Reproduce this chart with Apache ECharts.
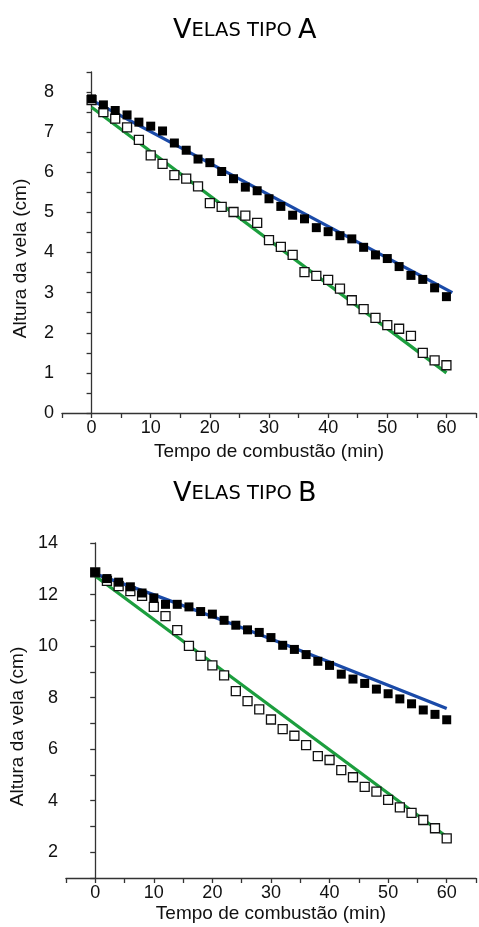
<!DOCTYPE html>
<html>
<head>
<meta charset="utf-8">
<script src="https://cdn.jsdelivr.net/npm/echarts@6/dist/echarts.min.js"></script>
<style>
  html, body { margin: 0; padding: 0; background: #fff; }
  #chart { width: 479px; height: 927px; }
</style>
</head>
<body>
<div id="chart"></div>
<script>
// tempo de combustão (min)
var tempo = [0, 2, 4, 6, 8, 10, 12, 14, 16, 18, 20, 22, 24, 26, 28, 30,
             32, 34, 36, 38, 40, 42, 44, 46, 48, 50, 52, 54, 56, 58, 60];

// velas tipo A
var alturaA_cheio = [7.83, 7.68, 7.54, 7.43, 7.25, 7.15, 7.03, 6.73, 6.55, 6.33, 6.24, 6.02, 5.84, 5.63, 5.54, 5.34,
                     5.15, 4.93, 4.84, 4.62, 4.52, 4.42, 4.34, 4.13, 3.94, 3.85, 3.65, 3.43, 3.33, 3.12, 2.9];
var alturaA_vazio = [7.8, 7.5, 7.34, 7.12, 6.81, 6.42, 6.21, 5.93, 5.84, 5.65, 5.23, 5.14, 5.01, 4.92, 4.74, 4.31,
                     4.14, 3.94, 3.51, 3.42, 3.32, 3.1, 2.81, 2.59, 2.37, 2.19, 2.1, 1.92, 1.5, 1.31, 1.19];
var ajusteA_azul = [[0, 7.8], [61, 3.0]];
var ajusteA_verde = [[0, 7.62], [60, 1.0]];

// velas tipo B
var alturaB_cheio = [12.86, 12.62, 12.48, 12.3, 12.06, 11.87, 11.62, 11.62, 11.52, 11.34, 11.24, 11.0, 10.81, 10.63, 10.53, 10.33,
                     10.03, 9.87, 9.67, 9.41, 9.25, 8.91, 8.72, 8.55, 8.33, 8.15, 7.95, 7.76, 7.52, 7.35, 7.14];
var alturaB_vazio = [12.86, 12.53, 12.33, 12.13, 11.95, 11.52, 11.16, 10.62, 10.01, 9.62, 9.25, 8.86, 8.25, 7.86, 7.54, 7.15,
                     6.78, 6.52, 6.16, 5.73, 5.58, 5.19, 4.91, 4.54, 4.35, 4.03, 3.74, 3.53, 3.25, 2.93, 2.54];
var ajusteB_azul = [[0, 12.8], [20, 11.15], [40, 9.38], [60, 7.58]];
var ajusteB_verde = [[0, 12.72], [60, 2.6]];

var titulos = ['Velas tipo A', 'Velas tipo B'];
var nomeX = 'Tempo de combustão (min)';
var nomeY = 'Altura da vela (cm)';

function pares(y) {
    return tempo.map(function (t, i) { return [t, y[i]]; });
}

var fonte = '"Liberation Sans", Arial, sans-serif';
var corEixo = '#333';

function eixoX(idx, gap) {
    return {
        type: 'value', gridIndex: idx, min: -5, max: 65, interval: 5,
        axisLine: { onZero: false, lineStyle: { color: corEixo, width: 1.3 } },
        axisTick: { length: 5, lineStyle: { color: corEixo, width: 1.3 } },
        axisLabel: {
            margin: 6, fontSize: 18, color: '#111', fontFamily: fonte,
            formatter: function (v) { return (v >= 0 && v % 10 === 0) ? v : ''; }
        },
        splitLine: { show: false },
        name: nomeX, nameLocation: 'middle', nameGap: gap,
        nameTextStyle: { fontSize: 19, color: '#111', fontFamily: fonte }
    };
}

function eixoY(idx, min, max, passo, gap, mostra) {
    return {
        type: 'value', gridIndex: idx, min: min, max: max, interval: passo,
        axisLine: { show: true, lineStyle: { color: corEixo, width: 1.3 } },
        axisTick: { show: true, length: 5, lineStyle: { color: corEixo, width: 1.3 } },
        axisLabel: { margin: 8, fontSize: 18, color: '#111', fontFamily: fonte, formatter: mostra },
        splitLine: { show: false },
        name: nomeY, nameLocation: 'middle', nameGap: gap, nameRotate: 90,
        nameTextStyle: { fontSize: 19, color: '#111', fontFamily: fonte, padding: [0, 32, 0, 0] }
    };
}

function titulo(txt, top) {
    // versalete: primeira letra e a última grandes
    var partes = txt.toUpperCase().split(' ');
    return {
        left: 168, top: top,
        text: '{g|V}{p|ELAS TIPO }{g|' + partes[2] + '}',
        textStyle: {
            fontWeight: 'normal',
            rich: {
                g: { fontSize: 27, fontWeight: 'normal', color: '#000', fontFamily: '"DejaVu Sans", sans-serif' },
                p: { fontSize: 19.5, fontWeight: 'normal', color: '#000', fontFamily: '"DejaVu Sans", sans-serif' }
            }
        }
    };
}

function linha(nome, dados, cor, x, y, suave) {
    return {
        name: nome, type: 'line', xAxisIndex: x, yAxisIndex: y, data: dados,
        symbol: 'none', smooth: !!suave, z: 1,
        lineStyle: { color: cor, width: 3.3 }
    };
}

function pontos(nome, dados, cheio, x, y) {
    return {
        name: nome, type: 'scatter', xAxisIndex: x, yAxisIndex: y, data: dados,
        symbol: 'rect', symbolSize: 9, z: cheio ? 4 : 3,
        itemStyle: cheio
            ? { color: '#000', opacity: 1 }
            : { color: '#fff', borderColor: '#111', borderWidth: 1.3, opacity: 1 }
    };
}

var azul = '#1a4aa8';
var verde = '#1c9e3e';

var chart = echarts.init(document.getElementById('chart'));
chart.setOption({
    animation: false,
    title: [titulo(titulos[0], 12), titulo(titulos[1], 475)],
    grid: [
        { left: 62, top: 72, right: -7, bottom: 514 },
        { left: 65.5, top: 543, right: 1.5, bottom: 49 }
    ],
    xAxis: [eixoX(0, 29), eixoX(1, 26)],
    yAxis: [
        eixoY(0, 0, 8.5, 0.5, 32, function (v) { return Number.isInteger(v) ? v : ''; }),
        eixoY(1, 1, 14, 1, 30, function (v) { return v % 2 === 0 ? v : ''; })
    ],
    series: [
        linha('A azul', ajusteA_azul, azul, 0, 0),
        linha('A verde', ajusteA_verde, verde, 0, 0),
        pontos('A vazio', pares(alturaA_vazio), false, 0, 0),
        pontos('A cheio', pares(alturaA_cheio), true, 0, 0),
        linha('B azul', ajusteB_azul, azul, 1, 1, true),
        linha('B verde', ajusteB_verde, verde, 1, 1),
        pontos('B vazio', pares(alturaB_vazio), false, 1, 1),
        pontos('B cheio', pares(alturaB_cheio), true, 1, 1)
    ]
});
</script>
</body>
</html>
